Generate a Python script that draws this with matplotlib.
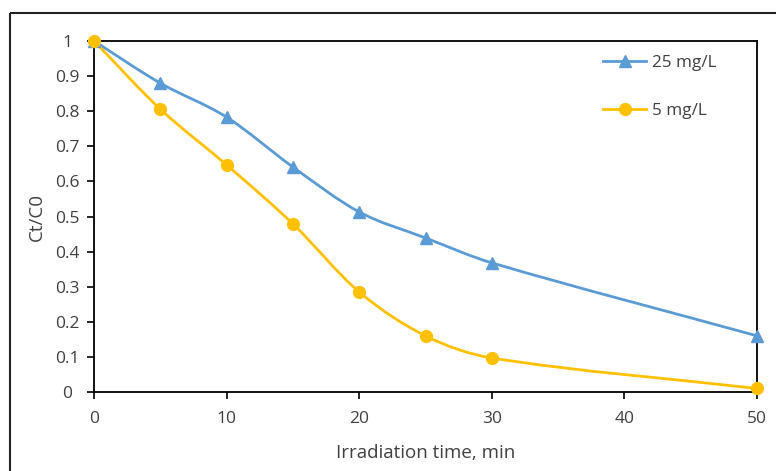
import matplotlib.pyplot as plt
from matplotlib.path import Path
from matplotlib.patches import PathPatch, Rectangle
from matplotlib.lines import Line2D

plt.rcParams['font.family'] = ['Open Sans', 'DejaVu Sans']

time_min = [0, 5, 10, 15, 20, 25, 30, 50]
c_25 = [1.0, 0.88, 0.783, 0.641, 0.513, 0.439, 0.368, 0.16]
c_5 = [1.0, 0.806, 0.647, 0.479, 0.285, 0.16, 0.097, 0.01]

blue = '#5B9BD5'
gold = '#FFC000'


def smooth_path(xs, ys):
    # smoothed line like Excel's: cubic Bezier segments through each point,
    # tangents scaled to the segment length so uneven x steps do not kink
    n = len(xs)
    slopes = []
    for i in range(n):
        a = max(i - 1, 0)
        b = min(i + 1, n - 1)
        slopes.append((ys[b] - ys[a]) / (xs[b] - xs[a]))
    verts = [(xs[0], ys[0])]
    codes = [Path.MOVETO]
    for i in range(n - 1):
        h = (xs[i + 1] - xs[i]) / 3
        verts += [(xs[i] + h, ys[i] + slopes[i] * h),
                  (xs[i + 1] - h, ys[i + 1] - slopes[i + 1] * h),
                  (xs[i + 1], ys[i + 1])]
        codes += [Path.CURVE4] * 3
    return Path(verts, codes)


fig = plt.figure(figsize=(7.76, 4.71), dpi=100)
ax = fig.add_axes([94 / 776, 1 - 392 / 471, (757 - 94) / 776, (392 - 41) / 471])

for ys, col, mk, ms in [(c_25, blue, '^', 8), (c_5, gold, 'o', 8.5)]:
    ax.add_patch(PathPatch(smooth_path(time_min, ys), facecolor='none',
                           edgecolor=col, lw=2, zorder=2))
    ax.plot(time_min, ys, linestyle='none', marker=mk, ms=ms, color=col,
            clip_on=False, zorder=3)

ax.set_xlim(0, 50)
ax.set_ylim(0, 1)
ax.set_xticks([0, 10, 20, 30, 40, 50])
ax.set_yticks([i / 10 for i in range(11)])
ax.set_yticklabels(['0', '0.1', '0.2', '0.3', '0.4', '0.5', '0.6', '0.7',
                    '0.8', '0.9', '1'])
ax.tick_params(direction='out', length=5, width=1.2, labelsize=12.5,
               colors='#000000', labelcolor='#404040')
ax.tick_params(axis='x', pad=9)
ax.tick_params(axis='y', pad=14)
for lab in ax.get_yticklabels():
    lab.set_ha('center')
for s in ax.spines.values():
    s.set_linewidth(1.3)
    s.set_color('black')

ax.set_xlabel('Irradiation time, min', fontsize=13.5, color='#404040', labelpad=12)
ax.set_ylabel('Ct/C0', fontsize=13.5, color='#404040', labelpad=7)

handles = [Line2D([], [], color=blue, lw=2, marker='^', ms=8),
           Line2D([], [], color=gold, lw=2, marker='o', ms=8.5)]
ax.legend(handles, ['25 mg/L', '5 mg/L'], loc='upper left',
          bbox_to_anchor=(0.745, 1.003), frameon=False, fontsize=12.3,
          labelspacing=1.85, handlelength=2.5, handletextpad=0.35,
          labelcolor='#404040')

fig.patches.append(Rectangle((10, 471 - 13), 800, -480, transform=None,
                             fill=False, edgecolor='#222222', lw=1.5))

fig.savefig('out.png', dpi=100)
